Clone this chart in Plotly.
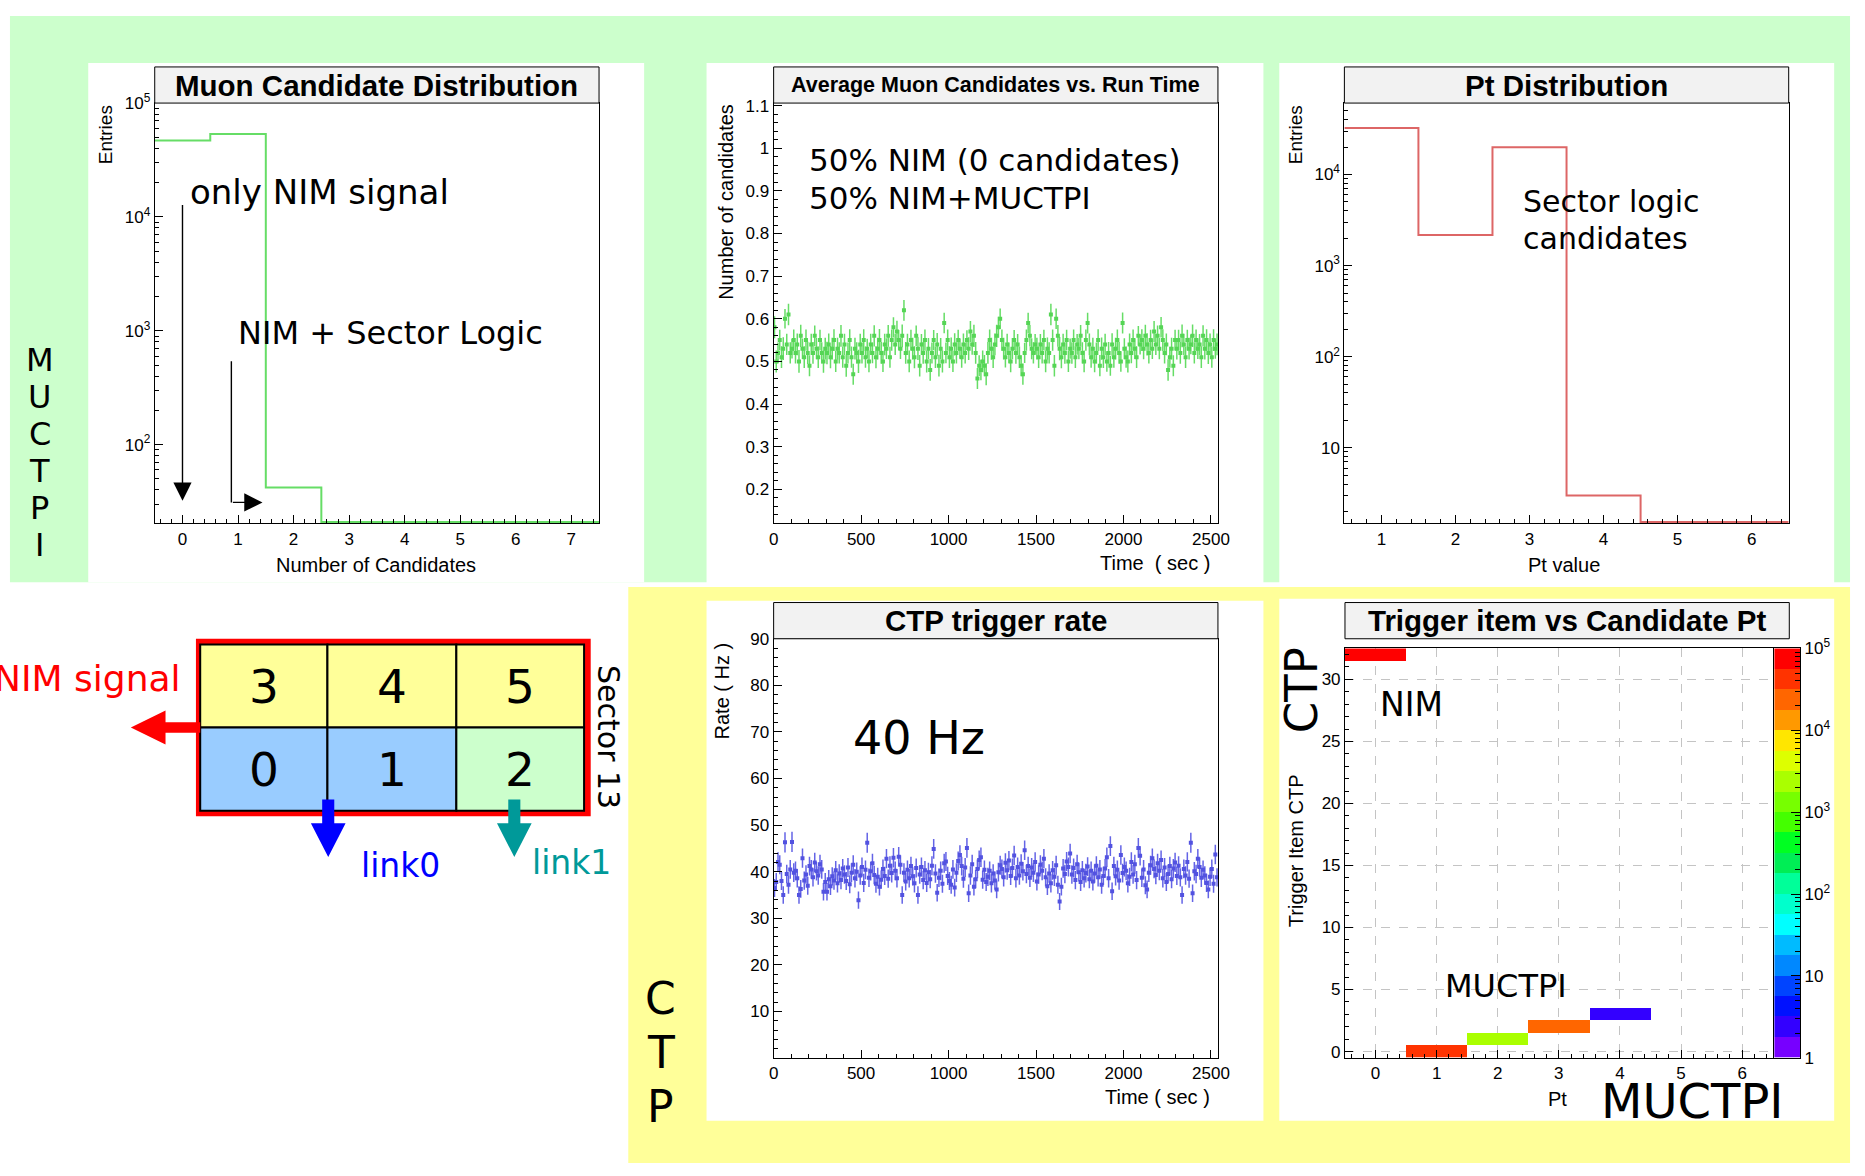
import numpy as np
import plotly.graph_objects as go

W, H = 1865, 1176
SANS = "Liberation Sans, Arial, Helvetica, sans-serif"
HAND = "DejaVu Sans, Noto Sans, sans-serif"

# ------------------------------------------------------------------ data
ncand_x = [0, 1, 2, 3, 4, 5, 6, 7]
ncand_entries = [46900, 53500, 42, 0, 0, 0, 0, 0]

pt_x = [1, 2, 3, 4, 5, 6]
pt_entries = [32400, 2170, 19900, 3, 0, 0]

TIME_BIN = 10  # seconds per bin
avg_candidates = [
    0.58, 0.50, 0.52, 0.55, 0.51, 0.53, 0.60, 0.54, 0.61, 0.52,
    0.53, 0.55, 0.52, 0.54, 0.50, 0.56, 0.53, 0.51, 0.55, 0.52,
    0.49, 0.54, 0.52, 0.56, 0.53, 0.51, 0.55, 0.52, 0.50, 0.53,
    0.52, 0.54, 0.51, 0.53, 0.55, 0.50, 0.53, 0.52, 0.56, 0.51,
    0.54, 0.49, 0.52, 0.55, 0.51, 0.47, 0.53, 0.52, 0.50, 0.54,
    0.52, 0.55, 0.51, 0.53, 0.50, 0.54, 0.52, 0.56, 0.51, 0.53,
    0.55, 0.52, 0.50, 0.54, 0.53, 0.56, 0.51, 0.55, 0.58, 0.54,
    0.57, 0.55, 0.53, 0.56, 0.62, 0.52, 0.54, 0.50, 0.55, 0.53,
    0.51, 0.56, 0.53, 0.49, 0.54, 0.52, 0.55, 0.50, 0.53, 0.48,
    0.52, 0.55, 0.51, 0.54, 0.49, 0.53, 0.50, 0.59, 0.52, 0.55,
    0.51, 0.53, 0.50, 0.54, 0.52, 0.55, 0.53, 0.51, 0.54, 0.52,
    0.55, 0.53, 0.57, 0.54, 0.56, 0.52, 0.46, 0.49, 0.48, 0.50,
    0.49, 0.47, 0.52, 0.55, 0.53, 0.51, 0.54, 0.56, 0.58, 0.60,
    0.55, 0.53, 0.51, 0.54, 0.52, 0.50, 0.53, 0.55, 0.52, 0.54,
    0.51, 0.49, 0.47, 0.52, 0.55, 0.59, 0.56, 0.53, 0.52, 0.54,
    0.53, 0.51, 0.54, 0.52, 0.55, 0.50, 0.53, 0.52, 0.61, 0.55,
    0.49, 0.60, 0.56, 0.53, 0.51, 0.54, 0.52, 0.55, 0.50, 0.53,
    0.52, 0.55, 0.51, 0.54, 0.53, 0.56, 0.52, 0.50, 0.55, 0.59,
    0.54, 0.51, 0.53, 0.50, 0.52, 0.55, 0.49, 0.53, 0.51, 0.54,
    0.50, 0.52, 0.49, 0.54, 0.51, 0.53, 0.55, 0.52, 0.50, 0.59,
    0.53, 0.51, 0.50, 0.54, 0.52, 0.55, 0.53, 0.51, 0.56, 0.54,
    0.55, 0.53, 0.56, 0.54, 0.52, 0.55, 0.53, 0.57, 0.54, 0.56,
    0.53, 0.58, 0.55, 0.52, 0.54, 0.48, 0.51, 0.53, 0.49, 0.55,
    0.53, 0.55, 0.52, 0.56, 0.54, 0.51, 0.55, 0.53, 0.54, 0.56,
    0.52, 0.55, 0.53, 0.54, 0.51, 0.56, 0.53, 0.55, 0.52, 0.54,
    0.51, 0.55, 0.53, 0.54,
]
ctp_rate_hz = [
    36.5, 37.8, 42.1, 41.5, 38.0, 35.0, 46.3, 39.5, 37.2, 40.5,
    46.4, 39.8, 40.2, 38.6, 35.0, 36.3, 42.9, 38.1, 39.4, 37.0,
    41.2, 40.5, 38.8, 42.0, 40.1, 39.2, 41.6, 40.5, 35.7, 37.8,
    35.7, 38.4, 36.9, 39.0, 38.1, 40.3, 37.5, 39.6, 38.2, 40.7,
    39.4, 38.0, 40.9, 37.3, 39.8, 41.5, 38.6, 40.0, 33.9, 39.2,
    41.0, 37.6, 40.4, 46.2, 38.7, 40.1, 41.8, 39.3, 37.4, 38.9,
    36.8, 38.3, 40.6, 39.1, 42.8, 38.5, 41.3, 39.7, 43.0, 40.2,
    38.6, 43.2, 41.5, 35.0, 39.8, 37.9, 40.4, 38.6, 41.2, 39.0,
    37.5, 40.8, 35.0, 39.4, 41.0, 38.2, 40.3, 37.6, 39.9, 38.4,
    41.3, 44.9, 39.6, 35.5, 38.7, 40.2, 37.4, 41.8, 42.2, 39.1,
    38.0, 37.2, 40.5, 36.6, 39.8, 42.3, 43.6, 41.2, 38.5, 40.9,
    45.1, 35.4, 39.2, 41.6, 36.8, 38.4, 40.6, 42.5, 43.1, 38.3,
    40.4, 37.8, 38.9, 40.2, 37.5, 39.6, 38.1, 36.2, 39.9, 41.4,
    40.6, 38.8, 41.9, 40.3, 42.4, 39.1, 40.8, 43.5, 38.6, 41.0,
    39.2, 41.7, 40.1, 44.6, 39.5, 41.2, 38.7, 40.9, 39.8, 42.1,
    37.9, 39.4, 41.5, 40.2, 42.8, 38.8, 36.9, 39.6, 37.5, 40.3,
    38.9, 41.4, 37.2, 33.6, 36.8, 40.7, 39.5, 42.2, 41.0, 43.9,
    39.4, 40.8, 38.2, 41.6, 39.9, 37.8, 40.3, 38.6, 39.7, 41.1,
    38.4, 40.2, 37.9, 39.6, 41.3, 38.8, 40.5, 37.2, 39.1, 40.7,
    43.1, 38.6, 45.5, 35.8, 41.2, 39.0, 40.4, 38.1, 43.6, 39.7,
    41.0, 40.2, 37.5, 38.9, 42.1, 39.4, 41.6, 38.2, 45.1, 43.4,
    38.7, 40.5, 37.1, 36.2, 39.8, 41.4, 42.9, 40.6, 39.3, 41.8,
    40.2, 42.5, 38.6, 40.9, 37.8, 39.5, 41.2, 38.4, 40.7, 42.0,
    39.1, 41.3, 38.8, 35.0, 40.6, 39.2, 42.1, 38.5, 46.2, 35.4,
    40.1, 39.5, 42.8, 41.0, 38.7, 40.4, 39.2, 37.6, 36.2, 38.9,
    40.6, 37.4, 43.7, 38.8,
]

trig_pt = [0, 1, 2, 3, 4]
trig_item = [32, 0, 1, 2, 3]
trig_entries = [99700, 32400, 2170, 19900, 3]

# ROOT-like palette, 20 contour levels from 1 to 1e5 (bottom -> top)
palette = ['#7700ff', '#3300ff', '#0011ff', '#0044ff', '#0088ff', '#00bbff',
           '#00ffff', '#00ffcc', '#00ff99', '#00ee55', '#00ff22', '#44ff00',
           '#77ff00', '#aaff00', '#ddff00', '#ffe600', '#ff9900', '#ff6600',
           '#ff3300', '#ff0000']

sector_top = ['3', '4', '5']
sector_bottom = ['0', '1', '2']
muctpi_letters = ['M', 'U', 'C', 'T', 'P', 'I']
ctp_letters = ['C', 'T', 'P']


# ------------------------------------------------------------------ helpers
def PX(x):
    return x / W


def PY(y):
    return 1 - y / H


TICKFONT = dict(family=SANS, size=17, color='black')


def minor(**kw):
    d = dict(ticks='inside', ticklen=4, tickwidth=1, tickcolor='black', showgrid=False)
    d.update(kw)
    return d


def xax(x0, x1, **kw):
    d = dict(domain=[PX(x0), PX(x1)], showline=True, linecolor='black', linewidth=1,
             mirror=True, ticks='inside', ticklen=8, tickwidth=1, tickcolor='black',
             showgrid=False, zeroline=False, tickfont=TICKFONT, fixedrange=True)
    d.update(kw)
    return d


def yax(ytop, ybot, **kw):
    d = dict(domain=[PY(ybot), PY(ytop)], showline=True, linecolor='black', linewidth=1,
             mirror=True, ticks='inside', ticklen=8, tickwidth=1, tickcolor='black',
             showgrid=False, zeroline=False, tickfont=TICKFONT, fixedrange=True)
    d.update(kw)
    return d


def step_xy(centers, counts, floor):
    edges = [c - 0.5 for c in centers] + [centers[-1] + 0.5]
    ys = [c if c > 0 else floor for c in counts]
    ys = ys + [ys[-1]]
    return edges, ys


def log_minor(lo_dec, hi_dec):
    return [k * 10 ** d for d in range(lo_dec, hi_dec + 1) for k in range(2, 10)]


shapes = []
annotations = []


def rect(x0, y0, x1, y1, fill, line_color=None, line_width=0, layer='below'):
    shapes.append(dict(type='rect', xref='paper', yref='paper',
                       x0=PX(x0), x1=PX(x1), y0=PY(y1), y1=PY(y0),
                       fillcolor=fill, layer=layer,
                       line=dict(color=line_color or fill, width=line_width)))


def poly(pts, fill):
    path = 'M ' + ' L '.join(f'{PX(x):.6f} {PY(y):.6f}' for x, y in pts) + ' Z'
    shapes.append(dict(type='path', xref='paper', yref='paper', path=path,
                       fillcolor=fill, line=dict(width=0), layer='above'))


def text(s, x, y, size, family=HAND, color='black', xanchor='center', angle=0):
    annotations.append(dict(text=s, x=PX(x), y=PY(y), xref='paper', yref='paper',
                            showarrow=False, xanchor=xanchor, yanchor='middle',
                            textangle=angle, font=dict(family=family, size=size, color=color)))


# ------------------------------------------------------------------ backgrounds
rect(5, 4, 1862, 581, '#ccffcc')
rect(629, 586, 1862, 1173, '#ffff99')
for (a, b, c, d) in [(84, 52, 645, 581), (708, 52, 1270, 583), (1286, 52, 1846, 583),
                     (708, 600, 1270, 1130), (1286, 598, 1846, 1130)]:
    rect(a, b, c, d, 'white')

# title boxes
for (a, b, c, d) in [(151.1, 56, 599.5, 92.8), (775.7, 56, 1224.1, 92.8),
                     (1351.7, 56, 1800.1, 92.8), (775.7, 601.8, 1224.1, 638.7),
                     (1352.3, 601.8, 1800.7, 638.7)]:
    rect(a, b, c, d, '#f2f2f2', 'black', 1, layer='above')

# ------------------------------------------------------------------ traces
fig = go.Figure()

# Panel 1: muon candidate distribution (empty bins sit on the frame bottom, as in ROOT)
P1_YLOG = [1.31, 5.0]
ex, ey = step_xy(ncand_x, ncand_entries, 10 ** (P1_YLOG[0] + 0.012))
fig.add_trace(go.Scatter(x=ex, y=ey, mode='lines', line=dict(color='#66dd66', width=2, shape='hv'),
                         xaxis='x', yaxis='y', hoverinfo='skip'))

# Panel 2: average candidates vs time
tcent = [TIME_BIN * i + TIME_BIN / 2 for i in range(len(avg_candidates))]
nev = np.array(ctp_rate_hz) * TIME_BIN
m = np.array(avg_candidates)
cand_err = np.sqrt(m * (1 - m) / nev)
fig.add_trace(go.Scatter(x=tcent, y=avg_candidates, mode='markers',
                         marker=dict(symbol='square', size=4, color='#55d555'),
                         error_y=dict(type='data', array=cand_err, color='#66dd66', thickness=1.5, width=0),
                         xaxis='x2', yaxis='y2', hoverinfo='skip'))

# Panel 3: Pt distribution
P3_YLOG = [0.172, 4.784]
ex, ey = step_xy(pt_x, pt_entries, 10 ** (P3_YLOG[0] + 0.014))
fig.add_trace(go.Scatter(x=ex, y=ey, mode='lines', line=dict(color='#dd6666', width=2, shape='hv'),
                         xaxis='x3', yaxis='y3', hoverinfo='skip'))

# Panel 4: CTP trigger rate
rate = np.array(ctp_rate_hz)
rate_err = np.sqrt(rate * TIME_BIN) / TIME_BIN
fig.add_trace(go.Scatter(x=tcent, y=ctp_rate_hz, mode='markers',
                         marker=dict(symbol='square', size=4, color='#5252e0'),
                         error_y=dict(type='data', array=rate_err, color='#6464e6', thickness=1.5, width=0),
                         xaxis='x4', yaxis='y4', hoverinfo='skip'))

# Panel 5: trigger item vs candidate Pt (log z)
ncol, nrow = 7, 33
zgrid = [[None] * ncol for _ in range(nrow)]
for p, it, n in zip(trig_pt, trig_item, trig_entries):
    zgrid[it][p] = float(np.log10(n))
nlev = len(palette)
cscale = []
for i, c in enumerate(palette):
    cscale.append([i / nlev, c])
    cscale.append([(i + 1) / nlev, c])
fig.add_trace(go.Heatmap(x=list(range(ncol)), y=list(range(nrow)), z=zgrid, zmin=0, zmax=5,
                         colorscale=cscale, showscale=False, xaxis='x5', yaxis='y5',
                         hoverinfo='skip'))

# palette bar
band_c = [(i + 0.5) * 5 / nlev for i in range(nlev)]
fig.add_trace(go.Heatmap(x=[0], y=band_c, z=[[v] for v in band_c], zmin=0, zmax=5,
                         colorscale=cscale, showscale=False, xaxis='x6', yaxis='y6',
                         hoverinfo='skip'))

# ------------------------------------------------------------------ axes
dec_text = {1: '1', 10: '10', 100: '10<sup>2</sup>', 1000: '10<sup>3</sup>',
            10000: '10<sup>4</sup>', 100000: '10<sup>5</sup>'}

layout = dict(
    width=W, height=H, margin=dict(l=0, r=0, t=0, b=0), autosize=False,
    paper_bgcolor='white', plot_bgcolor='white', showlegend=False,
    xaxis=xax(151.1, 599.5, anchor='y', range=[-0.5, 7.5], dtick=1, tick0=0,
              minor=minor(dtick=0.2, tick0=0)),
    yaxis=yax(92.8, 521.0, anchor='x', type='log', range=P1_YLOG,
              tickvals=[100, 1000, 10000, 100000],
              ticktext=[dec_text[v] for v in [100, 1000, 10000, 100000]],
              minor=minor(tickvals=log_minor(1, 4))),
    xaxis2=xax(775.7, 1224.1, anchor='y2', range=[0, 2540], dtick=500, tick0=0,
               minor=minor(dtick=100, tick0=0)),
    yaxis2=yax(92.8, 521.0, anchor='x2', range=[0.1205, 1.106], dtick=0.1, tick0=0,
               minor=minor(dtick=0.02, tick0=0)),
    xaxis3=xax(1351.7, 1800.1, anchor='y3', range=[0.5, 6.5], dtick=1, tick0=0,
               minor=minor(dtick=0.2, tick0=0)),
    yaxis3=yax(92.8, 521.0, anchor='x3', type='log', range=P3_YLOG,
               tickvals=[10, 100, 1000, 10000],
               ticktext=[dec_text[v] for v in [10, 100, 1000, 10000]],
               minor=minor(tickvals=log_minor(0, 4))),
    xaxis4=xax(775.7, 1224.1, anchor='y4', range=[0, 2540], dtick=500, tick0=0,
               minor=minor(dtick=100, tick0=0)),
    yaxis4=yax(638.7, 1065.7, anchor='x4', range=[0.07, 90], dtick=10, tick0=0,
               minor=minor(dtick=2, tick0=0)),
    xaxis5=xax(1352.3, 1784.0, anchor='y5', range=[-0.5, 6.5], dtick=1, tick0=0,
               showgrid=True, gridcolor='#c4c4c4', griddash='dash', gridwidth=1,
               minor=minor(dtick=0.2, tick0=0)),
    yaxis5=yax(648.5, 1065.7, anchor='x5', range=[-0.5, 32.5], dtick=5, tick0=0,
               showgrid=True, gridcolor='#c4c4c4', griddash='dash', gridwidth=1,
               minor=minor(dtick=1, tick0=0)),
    xaxis6=xax(1785.5, 1811.7, anchor='y6', range=[-0.5, 0.5], ticks='', showticklabels=False),
    yaxis6=yax(648.5, 1065.7, anchor='x6', range=[0, 5], side='right',
               tickvals=[0, 1, 2, 3, 4, 5],
               ticktext=[dec_text[v] for v in [1, 10, 100, 1000, 10000, 100000]],
               ticklen=9, minor=minor(tickvals=[float(np.log10(v)) for v in log_minor(0, 4)],
                                      ticklen=5)),
)

# ------------------------------------------------------------------ plot titles and axis titles
text('<b>Muon Candidate Distribution</b>', 375.3, 74.6, 29.5, SANS)
text('<b>Average Muon Candidates vs. Run Time</b>', 999.9, 74.6, 21.5, SANS)
text('<b>Pt Distribution</b>', 1575.9, 74.6, 29.5, SANS)
text('<b>CTP trigger rate</b>', 999.9, 620.5, 29.5, SANS)
text('<b>Trigger item vs Candidate Pt</b>', 1576.5, 620.5, 29.5, SANS)

text('Entries', 101.5, 125, 19, SANS, angle=-90)
text('Number of Candidates', 374, 564, 20, SANS)
text('Number of candidates', 727.6, 193.5, 20, SANS, angle=-90)
text('Time  ( sec )', 1218, 562, 20, SANS, xanchor='right')
text('Entries', 1302.5, 125, 19, SANS, angle=-90)
text('Pt value', 1573.6, 564, 20, SANS)
text('Rate ( Hz )', 724, 692, 20, SANS, angle=-90)
text('Time ( sec )', 1218, 1106, 20, SANS, xanchor='right')
text('Trigger Item CTP', 1303, 855, 20, SANS, angle=-90)
text('Pt', 1567, 1108, 20, SANS)

# ------------------------------------------------------------------ handwritten notes
text('only NIM signal', 184.6, 183, 34, xanchor='left')
text('NIM + Sector Logic', 232.7, 327, 32, xanchor='left')
text('50% NIM (0 candidates)', 808.9, 151, 31, xanchor='left')
text('50% NIM+MUCTPI', 808.9, 190, 31, xanchor='left')
text('Sector logic', 1530, 193.5, 30, xanchor='left')
text('candidates', 1530, 231, 30, xanchor='left')
text('40 Hz', 854, 740, 46, xanchor='left')
text('NIM', 1386, 706, 33, xanchor='left')
text('MUCTPI', 1451, 993, 32, xanchor='left')
text('MUCTPI', 1609, 1110, 48, xanchor='left')
text('CTP', 1308, 691, 45, angle=-90)

for i, ch in enumerate(muctpi_letters):
    text(ch, 35, 354.4 + 37.8 * i, 32)
for i, ch in enumerate(ctp_letters):
    text(ch, 662, 1005 + 55 * i, 44)

# arrows in panel 1 (data coordinates, log10 for y)
arrow_common = dict(xref='x', yref='y', axref='x', ayref='y', text='', showarrow=True,
                    arrowcolor='black', arrowwidth=1.4)
annotations.append(dict(x=0, y=1.507, ax=0, ay=4.117, arrowhead=2, arrowsize=2.6, **arrow_common))
annotations.append(dict(x=0.88, y=1.493, ax=0.88, ay=2.746, arrowhead=0, **arrow_common))
annotations.append(dict(x=1.44, y=1.493, ax=0.88, ay=1.493, arrowhead=2, arrowsize=2.6, **arrow_common))

# ------------------------------------------------------------------ sector 13 diagram
rect(192.7, 638.7, 591.1, 819.5, '#ff0000', layer='above')
xe = [197, 325.4, 455.5, 584.4]
ye = [644.5, 729.2, 813.9]
bottom_fill = ['#99ccff', '#99ccff', '#ccffcc']
for j in range(3):
    rect(xe[j], ye[0], xe[j + 1], ye[1], '#ffff99', 'black', 2, layer='above')
    rect(xe[j], ye[1], xe[j + 1], ye[2], bottom_fill[j], 'black', 2, layer='above')
    text(sector_top[j], (xe[j] + xe[j + 1]) / 2, (ye[0] + ye[1]) / 2, 47)
    text(sector_bottom[j], (xe[j] + xe[j + 1]) / 2, (ye[1] + ye[2]) / 2, 47)

# NIM signal arrow (left)
poly([(197, 723.8), (162, 723.8), (162, 711.9), (127, 729.2), (162, 746.5),
      (162, 734.6), (197, 734.6)], '#ff0000')


def down_arrow(cx, color):
    poly([(cx - 6.1, 802.4), (cx - 6.1, 826.6), (cx - 17.5, 826.6), (cx, 861.2),
          (cx + 17.5, 826.6), (cx + 6.1, 826.6), (cx + 6.1, 802.4)], color)


down_arrow(326.2, '#0000ff')
down_arrow(514.0, '#009999')

text('NIM signal', 180, 679, 36, color='#ff0000', xanchor='right')
text('link0', 399, 870, 33, color='#0000ff')
text('link1', 572, 867, 33, color='#009999')
text('Sector 13', 609.7, 739, 30, angle=90)

layout['shapes'] = shapes
layout['annotations'] = annotations
fig.update_layout(**layout)
fig.write_html('out.html', config={'displayModeBar': False},
               post_script="document.body.style.margin='0';document.body.style.padding='0';"
                           "document.documentElement.style.overflow='hidden';")
